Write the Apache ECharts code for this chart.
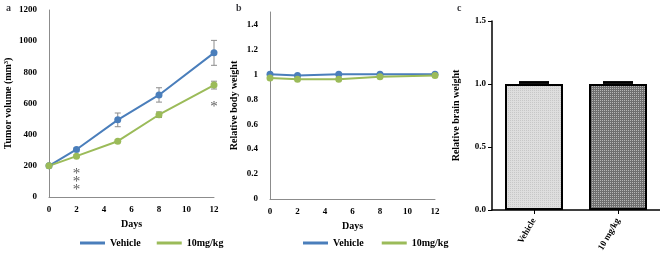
<!DOCTYPE html>
<html>
<head>
<meta charset="utf-8">
<script src="https://cdn.jsdelivr.net/npm/echarts@6/dist/echarts.min.js"></script>
<style>
html,body{margin:0;padding:0;background:#fff;}
#chart{width:660px;height:258px;}
</style>
</head>
<body>
<div id="chart"></div>
<script>
// data
var days = [0, 2, 5, 8, 12];
var tumorVehicle = [200, 305, 495, 655, 925];
var tumorVehicleErr = [4, 10, 44, 46, 80];
var tumorDrug = [200, 262, 358, 528, 718];
var tumorDrugErr = [4, 8, 8, 18, 25];
var bodyVehicle = [1.0, 0.99, 1.0, 1.0, 1.0];
var bodyDrug = [0.97, 0.96, 0.96, 0.98, 0.99];
var brainCats = ['Vehicle', '10 mg/kg'];
var brainVals = [1.0, 1.0];
var brainErr = [0.012, 0.012];
var sigMarks = [[2, 150], [2, 98], [2, 42], [12, 575]];

var font = 'Liberation Serif';
var blue = '#4a7ebb', green = '#9bbb59';

function pairs(xs, ys){
	var out = [];
	for(var i=0;i<xs.length;i++){ out.push([xs[i], ys[i]]); }
	return out;
}
function errData(xs, ys, es){
	var out = [];
	for(var i=0;i<xs.length;i++){ out.push([xs[i], ys[i]-es[i], ys[i]+es[i]]); }
	return out;
}
//误差线
function errRender(capW, color, lw, stem){
	return function(params, api){
		var lo = api.coord([api.value(0), api.value(1)]);
		var hi = api.coord([api.value(0), api.value(2)]);
		var kids = [
			{type:'line', shape:{x1:lo[0]-capW,y1:lo[1],x2:lo[0]+capW,y2:lo[1]}, style:{stroke:color,lineWidth:lw}},
			{type:'line', shape:{x1:hi[0]-capW,y1:hi[1],x2:hi[0]+capW,y2:hi[1]}, style:{stroke:color,lineWidth:lw}}
		];
		if(stem){
			kids.push({type:'line', shape:{x1:lo[0],y1:lo[1],x2:hi[0],y2:hi[1]}, style:{stroke:color,lineWidth:lw}});
		}
		return {type:'group', children:kids};
	};
}

function lineXAxis(idx){
	return {
		type:'value', gridIndex:idx, min:0, max:12, interval:2,
		name:'Days', nameLocation:'middle', nameGap:22,
		nameTextStyle:{fontFamily:font, fontWeight:'bold', fontSize:10, color:'#000'},
		axisLine:{lineStyle:{color:'#8c8c8c'}},
		axisTick:{show:false},
		axisLabel:{fontFamily:font, fontWeight:'bold', fontSize:9, color:'#000', margin:8},
		splitLine:{show:false}
	};
}

var chart = echarts.init(document.getElementById('chart'));
var option = {
	animation:false,
	title:[
		{text:'a', left:1, top:-2, textStyle:{fontFamily:font, fontWeight:'bold', fontSize:10}},
		{text:'b', left:231, top:-2, textStyle:{fontFamily:font, fontWeight:'bold', fontSize:10}},
		{text:'c', left:452, top:-2, textStyle:{fontFamily:font, fontWeight:'bold', fontSize:10}}
	],
	legend:[{
		left:75, top:233, icon:'rect', itemWidth:25, itemHeight:3, itemGap:16,
		data:['Vehicle','10mg/kg'],
		textStyle:{fontFamily:font, fontWeight:'bold', fontSize:10, color:'#000'}
	},{
		left:298, top:233, icon:'rect', itemWidth:25, itemHeight:3, itemGap:18,
		data:['Vehicle','10mg/kg'],
		textStyle:{fontFamily:font, fontWeight:'bold', fontSize:10, color:'#000'}
	}],
	grid:[
		{left:49, top:10, width:165, height:187},
		{left:270, top:12, width:165, height:187},
		{left:492, top:21, width:176, height:189}
	],
	xAxis:[
		lineXAxis(0),
		lineXAxis(1),
		{
			type:'category', gridIndex:2, data:brainCats,
			axisLine:{lineStyle:{color:'#000', width:1.5}},
			axisTick:{show:true, alignWithLabel:true, length:4, lineStyle:{color:'#000'}},
			axisLabel:{fontFamily:font, fontWeight:'bold', fontSize:9, color:'#000', rotate:60, margin:9}
		}
	],
	yAxis:[{
		type:'value', gridIndex:0, min:0, max:1200, interval:200,
		name:'Tumor volume (mm³)', nameLocation:'middle', nameGap:36, nameRotate:90,
		nameTextStyle:{fontFamily:font, fontWeight:'bold', fontSize:10, color:'#000'},
		axisLine:{show:true, lineStyle:{color:'#8c8c8c'}},
		axisTick:{show:false},
		axisLabel:{fontFamily:font, fontWeight:'bold', fontSize:9, color:'#000', margin:12,
			formatter:function(v){ return String(v); }},
		splitLine:{show:false}
	},{
		type:'value', gridIndex:1, min:0, max:1.5, interval:0.2,
		name:'Relative body weight', nameLocation:'middle', nameGap:31, nameRotate:90,
		nameTextStyle:{fontFamily:font, fontWeight:'bold', fontSize:10, color:'#000'},
		axisLine:{show:true, lineStyle:{color:'#8c8c8c'}},
		axisTick:{show:false},
		axisLabel:{fontFamily:font, fontWeight:'bold', fontSize:9, color:'#000', margin:12, showMaxLabel:false,
			formatter:function(v){ return String(Math.round(v*10)/10); }},
		splitLine:{show:false}
	},{
		type:'value', gridIndex:2, min:0, max:1.5, interval:0.5,
		name:'Relative brain weight', nameLocation:'middle', nameGap:31, nameRotate:90,
		nameTextStyle:{fontFamily:font, fontWeight:'bold', fontSize:10, color:'#000'},
		axisLine:{show:true, lineStyle:{color:'#000', width:1.5}},
		axisTick:{show:true, length:4, lineStyle:{color:'#000'}},
		axisLabel:{fontFamily:font, fontWeight:'bold', fontSize:9, color:'#000', margin:6,
			formatter:function(v){ return v.toFixed(1); }},
		splitLine:{show:false}
	}],
	series:[
		{type:'custom', xAxisIndex:0, yAxisIndex:0, renderItem:errRender(3,'#8c8c8c',1,true), data:errData(days,tumorVehicle,tumorVehicleErr), z:1},
		{type:'custom', xAxisIndex:0, yAxisIndex:0, renderItem:errRender(3,'#8c8c8c',1,true), data:errData(days,tumorDrug,tumorDrugErr), z:1},
		{name:'Vehicle', type:'line', xAxisIndex:0, yAxisIndex:0, data:pairs(days,tumorVehicle), color:blue,
			symbol:'circle', symbolSize:7, lineStyle:{width:2}, z:3},
		{name:'10mg/kg', type:'line', xAxisIndex:0, yAxisIndex:0, data:pairs(days,tumorDrug), color:green,
			symbol:'circle', symbolSize:7, lineStyle:{width:2}, z:3},
		{type:'scatter', xAxisIndex:0, yAxisIndex:0, data:sigMarks, symbolSize:0,
			label:{show:true, position:'inside', formatter:'*', fontFamily:font, fontSize:15, color:'#333'}},
		{name:'Vehicle', type:'line', xAxisIndex:1, yAxisIndex:1, data:pairs(days,bodyVehicle), color:blue,
			symbol:'circle', symbolSize:7, lineStyle:{width:2}},
		{name:'10mg/kg', type:'line', xAxisIndex:1, yAxisIndex:1, data:pairs(days,bodyDrug), color:green,
			symbol:'circle', symbolSize:7, lineStyle:{width:2}},
		{type:'bar', xAxisIndex:2, yAxisIndex:2, barWidth:58,
			data:[
				{value:brainVals[0], itemStyle:{color:'#dedede', borderColor:'#000', borderWidth:2,
					decal:{symbol:'rect', symbolSize:1, dashArrayX:[1,1], dashArrayY:[1,1], color:'rgba(190,190,190,0.7)'}}},
				{value:brainVals[1], itemStyle:{color:'#6e6e6e', borderColor:'#000', borderWidth:2,
					decal:{symbol:'rect', symbolSize:1, dashArrayX:[1,1], dashArrayY:[1,1], color:'rgba(200,200,200,0.8)'}}}
			]},
		{type:'custom', xAxisIndex:2, yAxisIndex:2, renderItem:errRender(15,'#000',2.5,false),
			data:[[0, brainVals[0]+brainErr[0], brainVals[0]+brainErr[0]], [1, brainVals[1]+brainErr[1], brainVals[1]+brainErr[1]]], z:5}
	]
};
chart.setOption(option);
</script>
</body>
</html>
